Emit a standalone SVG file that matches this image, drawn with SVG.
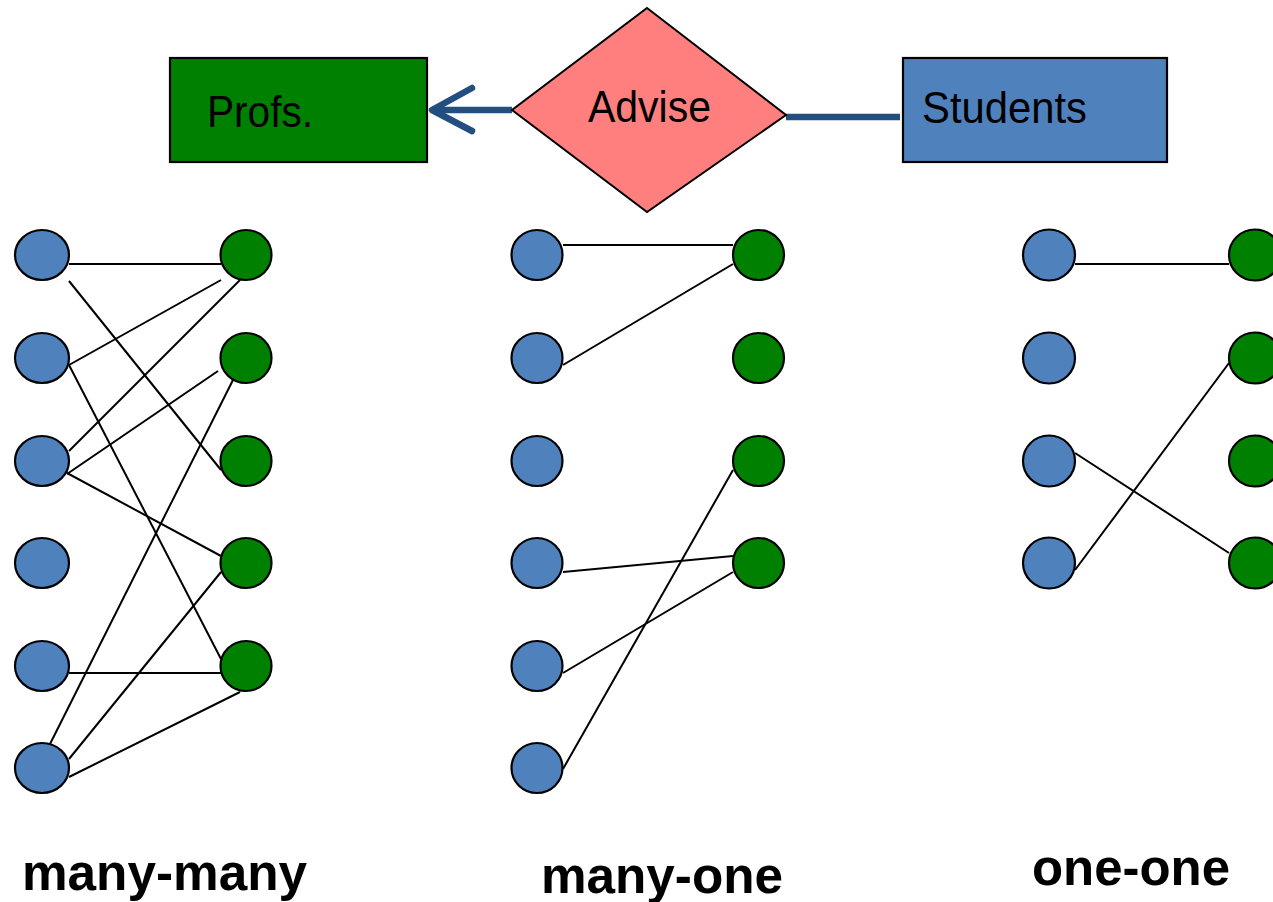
<svg xmlns="http://www.w3.org/2000/svg" width="1273" height="902" viewBox="0 0 1273 902">
<style>
.b{fill:#4F81BD;stroke:#000;stroke-width:2.2}
.g{fill:#008000;stroke:#000;stroke-width:2.2}
.ln{stroke:#000;stroke-width:2;fill:none}
.t{font-family:"Liberation Sans",Arial,sans-serif;font-size:44px;fill:#000}
.lab{font-family:"Liberation Sans",Arial,sans-serif;font-size:52px;font-weight:bold;fill:#000}
.blue{stroke:#234E80;stroke-width:6.5;fill:none}
</style>
<rect width="1273" height="902" fill="#fff"/>
<g id="connectors">
<path class="blue" d="M512,110 L432,110"/>
<path class="blue" d="M472,88 L432,110 L472,131" stroke-linecap="round" stroke-linejoin="round"/>
<path class="blue" d="M786,117 L900,117"/>
<g id="mm-lines">
<line class="ln" x1="69" y1="264" x2="221" y2="264"/>
<line class="ln" x1="69" y1="281" x2="221" y2="470"/>
<line class="ln" x1="69" y1="365" x2="221" y2="280"/>
<line class="ln" x1="69" y1="365" x2="221" y2="659"/>
<line class="ln" x1="69" y1="451" x2="240" y2="280"/>
<line class="ln" x1="67" y1="474" x2="218" y2="371"/>
<line class="ln" x1="67" y1="473" x2="221" y2="556"/>
<line class="ln" x1="48" y1="748" x2="237" y2="372"/>
<line class="ln" x1="69" y1="673" x2="221" y2="673"/>
<line class="ln" x1="69" y1="759" x2="221" y2="572"/>
<line class="ln" x1="69" y1="777" x2="240" y2="692"/>
</g>
<g id="mo-lines">
<line class="ln" x1="563" y1="245" x2="733" y2="245"/>
<line class="ln" x1="563" y1="365" x2="733" y2="264"/>
<line class="ln" x1="563" y1="572" x2="733" y2="556"/>
<line class="ln" x1="563" y1="673" x2="733" y2="572"/>
<line class="ln" x1="563" y1="769" x2="733" y2="470"/>
</g>
<g id="oo-lines">
<line class="ln" x1="1075" y1="264" x2="1229" y2="264"/>
<line class="ln" x1="1075" y1="570" x2="1229" y2="363"/>
<line class="ln" x1="1075" y1="453" x2="1229" y2="553"/>
</g>
</g>
<g id="profs">
<rect class="g" x="170" y="58" width="257" height="104"/>
<text class="t" x="207" y="127" textLength="106" lengthAdjust="spacingAndGlyphs">Profs.</text>
</g>
<g id="advise">
<polygon points="647,8 786,115 647,212 512,110" fill="#FF7F7F" stroke="#000" stroke-width="2"/>
<text class="t" x="588" y="122" textLength="123" lengthAdjust="spacingAndGlyphs">Advise</text>
</g>
<g id="students">
<rect class="b" x="903" y="58" width="264" height="104"/>
<text class="t" x="922" y="123" textLength="165" lengthAdjust="spacingAndGlyphs">Students</text>
</g>
<g id="many-many">
<ellipse class="b" cx="42" cy="255" rx="27" ry="25"/>
<ellipse class="b" cx="42" cy="358" rx="27" ry="25"/>
<ellipse class="b" cx="42" cy="461" rx="27" ry="25"/>
<ellipse class="b" cx="42" cy="563" rx="27" ry="25"/>
<ellipse class="b" cx="42" cy="666" rx="27" ry="25"/>
<ellipse class="b" cx="42" cy="768" rx="27" ry="25"/>
<ellipse class="g" cx="246" cy="255" rx="25.5" ry="25"/>
<ellipse class="g" cx="246" cy="358" rx="25.5" ry="25"/>
<ellipse class="g" cx="246" cy="461" rx="25.5" ry="25"/>
<ellipse class="g" cx="246" cy="563" rx="25.5" ry="25"/>
<ellipse class="g" cx="246" cy="666" rx="25.5" ry="25"/>
<text class="lab" x="22" y="890" textLength="285" lengthAdjust="spacingAndGlyphs">many-many</text>
</g>
<g id="many-one">
<ellipse class="b" cx="537" cy="255" rx="25.5" ry="25"/>
<ellipse class="b" cx="537" cy="358" rx="25.5" ry="25"/>
<ellipse class="b" cx="537" cy="461" rx="25.5" ry="25"/>
<ellipse class="b" cx="537" cy="563" rx="25.5" ry="25"/>
<ellipse class="b" cx="537" cy="666" rx="25.5" ry="25"/>
<ellipse class="b" cx="537" cy="768" rx="25.5" ry="25"/>
<ellipse class="g" cx="758.5" cy="255" rx="25.5" ry="25"/>
<ellipse class="g" cx="758.5" cy="358" rx="25.5" ry="25"/>
<ellipse class="g" cx="758.5" cy="461" rx="25.5" ry="25"/>
<ellipse class="g" cx="758.5" cy="563" rx="25.5" ry="25"/>
<text class="lab" x="541" y="893" textLength="242" lengthAdjust="spacingAndGlyphs">many-one</text>
</g>
<g id="one-one">
<ellipse class="b" cx="1049" cy="255" rx="26" ry="25.5"/>
<ellipse class="b" cx="1049" cy="358" rx="26" ry="25.5"/>
<ellipse class="b" cx="1049" cy="461" rx="26" ry="25.5"/>
<ellipse class="b" cx="1049" cy="563" rx="26" ry="25.5"/>
<ellipse class="g" cx="1255" cy="255" rx="26" ry="25.5"/>
<ellipse class="g" cx="1255" cy="358" rx="26" ry="25.5"/>
<ellipse class="g" cx="1255" cy="461" rx="26" ry="25.5"/>
<ellipse class="g" cx="1255" cy="563" rx="26" ry="25.5"/>
<text class="lab" x="1032" y="885" textLength="198" lengthAdjust="spacingAndGlyphs">one-one</text>
</g>
</svg>
